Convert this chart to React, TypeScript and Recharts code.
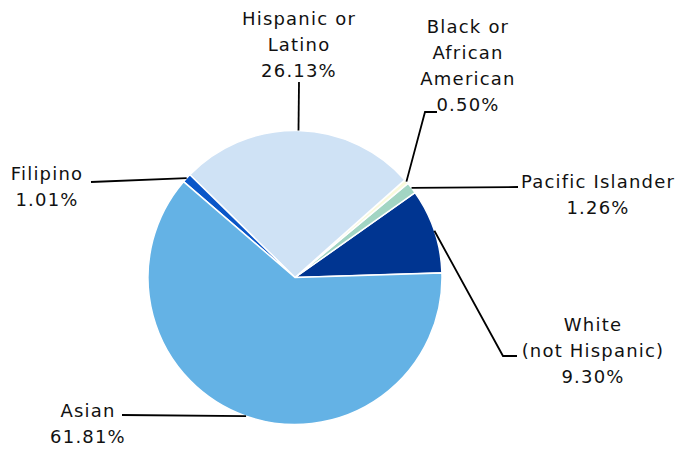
import { PieChart, Pie, Cell } from "recharts";

const categories = [
  "White (not Hispanic)",
  "Pacific Islander",
  "Black or African American",
  "Hispanic or Latino",
  "Filipino",
  "Asian",
];
const shares = [9.3, 1.26, 0.5, 26.13, 1.01, 61.81];
const shareLabels = ["9.30%", "1.26%", "0.50%", "26.13%", "1.01%", "61.81%"];
const nameLines = [
  ["White", "(not Hispanic)"],
  ["Pacific Islander"],
  ["Black or", "African", "American"],
  ["Hispanic or", "Latino"],
  ["Filipino"],
  ["Asian"],
];

const colors = ["#003591", "#a2d5c3", "#fafadc", "#cfe2f5", "#0a56c8", "#64b2e5"];

// label placement: leader path after the slice edge point, text centre and first line y
const labelLayout = [
  { path: [[503, 356], [517, 356]], tx: 593, ty: 324 },
  { path: [[518, 187]], tx: 598, ty: 181 },
  { path: [[425, 112], [437, 112]], tx: 468, ty: 26 },
  { path: [[299, 82]], tx: 299, ty: 18 },
  { path: [[91, 182]], tx: 47, ty: 173 },
  { path: [[122, 415]], tx: 88, ty: 410 },
];

const data = categories.map((name, i) => ({ name, value: shares[i] }));
const RAD = Math.PI / 180;
const LINE_H = 26.3;

const renderLabel = (props: any) => {
  const { cx, cy, midAngle, outerRadius, index } = props;
  const sx = cx + outerRadius * Math.cos(-midAngle * RAD);
  const sy = cy + outerRadius * Math.sin(-midAngle * RAD);
  const lay = labelLayout[index];
  const pts = [[sx, sy], ...lay.path];
  const d = pts.map((p, i) => `${i ? "L" : "M"}${p[0]},${p[1]}`).join(" ");
  const lines = [...nameLines[index], shareLabels[index]];
  return (
    <g key={`lbl-${index}`}>
      <path d={d} stroke="#000" strokeWidth={1.8} fill="none" />
      <text
        x={lay.tx}
        y={lay.ty}
        textAnchor="middle"
        fill="#111"
        fontSize={18}
        letterSpacing={1.2}
        fontFamily="DejaVu Sans, sans-serif"
      >
        {lines.map((t, i) => (
          <tspan key={i} x={lay.tx} y={lay.ty + i * LINE_H} dominantBaseline="central">
            {t}
          </tspan>
        ))}
      </text>
    </g>
  );
};

export default function App() {
  return (
    <div style={{ position: "absolute", left: 0, top: 0, width: 678, height: 449, background: "#fff" }}>
      <PieChart width={678} height={449} margin={{ top: 0, right: 0, bottom: 0, left: 0 }}>
        <Pie
          data={data}
          dataKey="value"
          nameKey="name"
          cx={295}
          cy={277.5}
          outerRadius={147}
          startAngle={1.8}
          endAngle={361.8}
          stroke="#fff"
          strokeWidth={1.5}
          label={renderLabel}
          labelLine={false}
          isAnimationActive={false}
        >
          {data.map((d, i) => (
            <Cell key={d.name} fill={colors[i]} />
          ))}
        </Pie>
      </PieChart>
    </div>
  );
}
